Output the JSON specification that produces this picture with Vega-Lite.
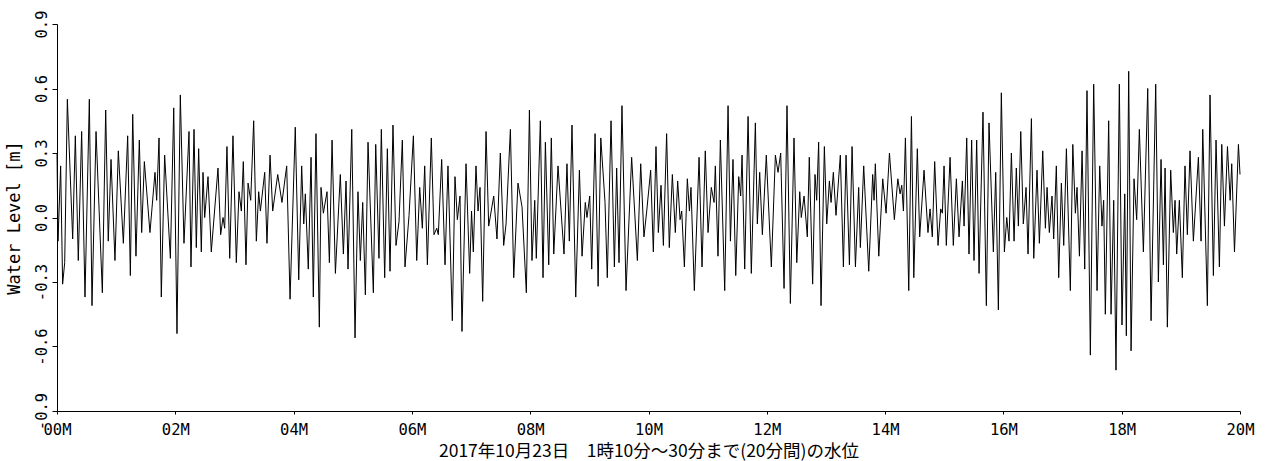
{
  "$schema": "https://vega.github.io/schema/vega-lite/v6.json",
  "autosize": {"type": "none"},
  "padding": {"left": 57, "top": 24, "right": 25, "bottom": 50},
  "width": 1183,
  "height": 387,
  "background": "white",
  "config": {"view": {"stroke": null}},
  "data": {"values": [
{"t":0,"v":0.30},{"t":1,"v":-0.11},{"t":3.7,"v":0.24},{"t":5.7,"v":-0.31},{"t":7.8,"v":-0.21},{"t":10.5,"v":0.55},{"t":15.9,"v":-0.10},{"t":18.6,"v":0.38},{"t":21.6,"v":-0.20},{"t":25,"v":0.40},{"t":28.4,"v":-0.37},{"t":32.8,"v":0.55},{"t":35.5,"v":-0.41},{"t":39.6,"v":0.40},{"t":46,"v":-0.35},{"t":49.4,"v":0.50},{"t":52,"v":-0.11},{"t":54.8,"v":0.27},{"t":58.8,"v":-0.20},{"t":62.2,"v":0.31},{"t":67.3,"v":-0.12},{"t":71.7,"v":0.38},{"t":74.4,"v":-0.27},{"t":76.8,"v":0.48},{"t":80.1,"v":-0.18},{"t":83.5,"v":0.36},{"t":85.9,"v":-0.07},{"t":88.6,"v":0.26},{"t":94.3,"v":-0.07},{"t":99.4,"v":0.21},{"t":101.1,"v":0.08},{"t":103.5,"v":0.37},
{"t":105.8,"v":-0.37},{"t":109.2,"v":0.29},{"t":115,"v":-0.19},{"t":118.4,"v":0.51},{"t":121.7,"v":-0.54},{"t":125.1,"v":0.57},{"t":128.8,"v":-0.12},{"t":133.9,"v":0.40},{"t":135.9,"v":-0.23},{"t":139,"v":0.41},{"t":141.3,"v":-0.14},{"t":143.7,"v":0.32},{"t":146.4,"v":-0.16},{"t":148.1,"v":0.21},{"t":149.8,"v":0.00},{"t":153.2,"v":0.19},{"t":156.5,"v":-0.16},{"t":163.3,"v":0.23},{"t":166,"v":-0.08},{"t":168.4,"v":0.00},{"t":170.1,"v":-0.05},{"t":172.4,"v":0.33},{"t":175.2,"v":-0.19},{"t":178.5,"v":0.38},{"t":181.9,"v":-0.21},{"t":184.6,"v":0.12},{"t":187,"v":0.03},{"t":189,"v":0.26},{"t":191.7,"v":-0.22},{"t":193.8,"v":0.16},{"t":196.5,"v":0.08},{"t":199.5,"v":0.45},{"t":202.2,"v":-0.11},{"t":204.6,"v":0.12},{"t":206.3,"v":0.03},{"t":210.7,"v":0.21},{"t":213,"v":-0.12},
{"t":216.1,"v":0.29},{"t":218.8,"v":0.03},{"t":223.9,"v":0.20},{"t":228.2,"v":0.07},{"t":233,"v":0.24},{"t":236.4,"v":-0.38},{"t":241.7,"v":0.42},{"t":245.2,"v":-0.29},{"t":248.2,"v":0.24},{"t":250.3,"v":-0.03},{"t":251.9,"v":0.11},{"t":254.9,"v":-0.24},{"t":257.7,"v":0.28},{"t":260,"v":-0.37},{"t":262.7,"v":0.39},{"t":266.1,"v":-0.51},{"t":267.8,"v":0.14},{"t":270.2,"v":0.02},{"t":273.9,"v":0.12},{"t":276.3,"v":-0.21},{"t":279,"v":0.36},{"t":282.4,"v":-0.26},{"t":287.4,"v":0.20},{"t":290.5,"v":-0.17},{"t":293.2,"v":0.17},{"t":295.2,"v":-0.24},{"t":299,"v":0.41},{"t":302.3,"v":-0.56},{"t":305.3,"v":0.12},{"t":307.7,"v":-0.20},{"t":310.1,"v":0.07},{"t":312.8,"v":-0.36},{"t":315.5,"v":0.35},{"t":320.9,"v":-0.35},
{"t":323.3,"v":0.34},{"t":326.6,"v":-0.19},{"t":329,"v":0.41},{"t":332.4,"v":-0.28},{"t":335.1,"v":0.32},{"t":337.8,"v":-0.25},{"t":340.8,"v":0.43},{"t":343.9,"v":-0.13},{"t":346.9,"v":-0.02},{"t":350.3,"v":0.36},{"t":353,"v":-0.23},{"t":357.1,"v":0.01},{"t":361.5,"v":0.38},{"t":364.9,"v":-0.20},{"t":367.9,"v":0.14},{"t":370.6,"v":-0.05},{"t":373,"v":0.24},{"t":375.7,"v":-0.22},{"t":379.7,"v":0.37},{"t":382.4,"v":-0.08},{"t":385.2,"v":-0.05},{"t":386.8,"v":-0.08},{"t":390.2,"v":0.27},{"t":393.6,"v":-0.22},{"t":396.6,"v":0.24},{"t":401,"v":-0.48},{"t":403.7,"v":0.19},{"t":406.1,"v":-0.01},{"t":408.8,"v":0.10},{"t":410.8,"v":-0.53},{"t":414.9,"v":0.25},{"t":418.6,"v":-0.26},{"t":420.5,"v":0.03},{"t":422.3,"v":-0.16},{"t":425,"v":0.24},{"t":427.1,"v":0.03},{"t":429.1,"v":0.14},{"t":431.8,"v":-0.39},
{"t":435.2,"v":0.40},{"t":437.9,"v":-0.04},{"t":443,"v":0.10},{"t":446.3,"v":-0.10},{"t":449.7,"v":0.30},{"t":453.1,"v":-0.13},{"t":455.5,"v":-0.03},{"t":459.9,"v":0.41},{"t":463.3,"v":-0.28},{"t":467.6,"v":0.16},{"t":471.7,"v":0.05},{"t":476.1,"v":-0.35},{"t":479.2,"v":0.50},{"t":481.8,"v":-0.20},{"t":484.6,"v":0.08},{"t":486.2,"v":-0.19},{"t":490.3,"v":0.45},{"t":493,"v":-0.28},{"t":495.4,"v":0.35},{"t":498.8,"v":-0.22},{"t":501.4,"v":0.37},{"t":503.9,"v":-0.17},{"t":508.2,"v":0.24},{"t":514.3,"v":-0.17},{"t":517.3,"v":0.25},{"t":519.7,"v":-0.11},{"t":522.4,"v":0.43},{"t":526.2,"v":-0.37},{"t":529.9,"v":0.22},{"t":532.6,"v":-0.18},{"t":535.9,"v":0.07},{"t":537.6,"v":0.00},{"t":540.4,"v":0.10},
{"t":542.4,"v":-0.24},{"t":545.8,"v":0.39},{"t":548.9,"v":-0.32},{"t":551.6,"v":0.37},{"t":555.9,"v":0.07},{"t":558.2,"v":-0.28},{"t":562,"v":0.45},{"t":565.4,"v":-0.23},{"t":567.7,"v":0.23},{"t":570.1,"v":-0.21},{"t":573.1,"v":0.52},{"t":577.2,"v":-0.34},{"t":582.9,"v":0.28},{"t":588.7,"v":-0.20},{"t":592.1,"v":0.25},{"t":595.4,"v":-0.09},{"t":598.2,"v":0.03},{"t":602.2,"v":0.22},{"t":604.9,"v":-0.16},{"t":607.6,"v":0.33},{"t":610,"v":-0.07},{"t":612.7,"v":0.15},{"t":615.1,"v":-0.13},{"t":618.4,"v":0.39},{"t":621.1,"v":-0.14},{"t":624.2,"v":0.20},{"t":627.2,"v":-0.07},{"t":629.6,"v":0.17},{"t":632,"v":-0.01},{"t":633.7,"v":0.03},{"t":636.4,"v":-0.23},{"t":639.4,"v":0.18},{"t":641.5,"v":0.03},{"t":643.1,"v":0.14},{"t":646.5,"v":-0.34},{"t":651.3,"v":0.28},
{"t":654.3,"v":-0.23},{"t":657.6,"v":0.31},{"t":660.4,"v":-0.07},{"t":663.7,"v":0.14},{"t":666.5,"v":0.07},{"t":667.8,"v":0.24},{"t":670.5,"v":-0.18},{"t":672.9,"v":0.36},{"t":677.3,"v":-0.34},{"t":680.7,"v":0.52},{"t":683.1,"v":-0.11},{"t":685.7,"v":0.27},{"t":688.5,"v":-0.27},{"t":691.5,"v":0.19},{"t":693.5,"v":0.10},{"t":694.9,"v":0.29},{"t":697.6,"v":-0.24},{"t":701,"v":0.47},{"t":704.3,"v":-0.26},{"t":708.4,"v":0.44},{"t":710.4,"v":-0.03},{"t":712.8,"v":0.21},{"t":715.5,"v":-0.08},{"t":719.5,"v":0.29},{"t":724.6,"v":-0.23},{"t":728.7,"v":0.29},{"t":731.4,"v":0.21},{"t":734.1,"v":0.30},{"t":737.5,"v":-0.33},{"t":740.5,"v":0.52},{"t":743.9,"v":-0.40},{"t":747.6,"v":0.37},{"t":750.4,"v":-0.21},{"t":753.4,"v":0.12},{"t":755,"v":0.00},{"t":757.8,"v":0.10},{"t":761.1,"v":-0.09},
{"t":763.1,"v":0.28},{"t":766.5,"v":-0.31},{"t":768.9,"v":0.20},{"t":770.6,"v":0.08},{"t":772.6,"v":0.35},{"t":775,"v":-0.41},{"t":778.4,"v":0.33},{"t":780.8,"v":-0.03},{"t":783.5,"v":0.17},{"t":785.2,"v":0.07},{"t":787.5,"v":0.21},{"t":790.2,"v":0.01},{"t":794.6,"v":0.29},{"t":797.7,"v":-0.23},{"t":800.4,"v":0.29},{"t":803.8,"v":-0.22},{"t":806.5,"v":0.33},{"t":809.9,"v":-0.23},{"t":813.2,"v":0.14},{"t":814.9,"v":-0.14},{"t":818.3,"v":0.24},{"t":823.4,"v":-0.25},{"t":827.4,"v":0.20},{"t":828.8,"v":0.08},{"t":830.1,"v":0.25},{"t":833.6,"v":-0.18},{"t":837.6,"v":0.18},{"t":841,"v":0.02},{"t":844.4,"v":0.30},{"t":849.4,"v":-0.01},{"t":852.9,"v":0.18},{"t":855.2,"v":0.11},{"t":856.9,"v":0.15},{"t":858.6,"v":0.03},{"t":860.6,"v":0.37},{"t":864,"v":-0.34},{"t":866.7,"v":0.47},{"t":869.1,"v":-0.28},
{"t":872.7,"v":0.32},{"t":875.1,"v":-0.09},{"t":879.5,"v":0.22},{"t":883.5,"v":-0.07},{"t":885.6,"v":0.04},{"t":887.9,"v":-0.09},{"t":890.3,"v":0.26},{"t":893.7,"v":-0.13},{"t":896.4,"v":0.04},{"t":898.1,"v":0.02},{"t":899.8,"v":0.24},{"t":902.1,"v":-0.13},{"t":905.9,"v":0.28},{"t":909.2,"v":-0.13},{"t":912.3,"v":0.18},{"t":915,"v":-0.09},{"t":918.4,"v":0.17},{"t":920.1,"v":-0.04},{"t":922.8,"v":0.37},{"t":925.1,"v":-0.17},{"t":927.8,"v":0.36},{"t":930.2,"v":-0.20},{"t":932.9,"v":0.36},{"t":935.3,"v":-0.26},{"t":939.3,"v":0.49},{"t":942.7,"v":-0.41},{"t":945.4,"v":0.44},{"t":949.8,"v":-0.16},{"t":952.2,"v":0.21},{"t":954.9,"v":-0.43},{"t":957.9,"v":0.58},{"t":961,"v":-0.16},{"t":963.4,"v":0.00},{"t":965.7,"v":-0.11},{"t":968.1,"v":0.30},{"t":970.8,"v":-0.11},{"t":973.1,"v":0.23},{"t":975.2,"v":-0.04},{"t":977.6,"v":0.40},{"t":980.2,"v":-0.03},
{"t":983,"v":0.14},{"t":985,"v":-0.17},{"t":988.4,"v":0.46},{"t":990.8,"v":-0.19},{"t":994.1,"v":0.22},{"t":996.5,"v":-0.12},{"t":999.9,"v":0.31},{"t":1002.6,"v":-0.05},{"t":1004.3,"v":0.14},{"t":1006.6,"v":-0.07},{"t":1009.3,"v":0.10},{"t":1011,"v":-0.10},{"t":1013.7,"v":0.24},{"t":1016.1,"v":-0.28},{"t":1018.8,"v":0.16},{"t":1021.2,"v":-0.13},{"t":1023.9,"v":0.32},{"t":1027.9,"v":-0.34},{"t":1030.4,"v":0.34},{"t":1033,"v":0.02},{"t":1034.7,"v":0.14},{"t":1037.1,"v":-0.18},{"t":1039.8,"v":0.31},{"t":1042.5,"v":-0.24},{"t":1044.8,"v":0.59},{"t":1048.2,"v":-0.64},{"t":1051.6,"v":0.62},{"t":1055,"v":-0.34},{"t":1057.7,"v":0.24},{"t":1060,"v":-0.04},{"t":1061.7,"v":0.08},{"t":1063.4,"v":-0.45},{"t":1066.8,"v":0.45},{"t":1069.2,"v":-0.45},{"t":1071.9,"v":0.08},{"t":1074.2,"v":-0.71},{"t":1077.6,"v":0.62},{"t":1080.3,"v":-0.50},{"t":1083.1,"v":0.11},{"t":1084.7,"v":-0.55},{"t":1087.1,"v":0.68},{"t":1089.5,"v":-0.62},
{"t":1092.5,"v":0.18},{"t":1095.2,"v":-0.01},{"t":1097.9,"v":0.41},{"t":1102,"v":-0.16},{"t":1106.4,"v":0.60},{"t":1109.8,"v":-0.48},{"t":1114.5,"v":0.62},{"t":1117.2,"v":-0.30},{"t":1119.9,"v":0.27},{"t":1122.3,"v":-0.22},{"t":1124,"v":0.23},{"t":1126.3,"v":-0.51},{"t":1129.7,"v":0.22},{"t":1132.4,"v":-0.07},{"t":1134.1,"v":0.08},{"t":1135.8,"v":-0.17},{"t":1138.5,"v":0.08},{"t":1141.5,"v":-0.28},{"t":1144.2,"v":0.24},{"t":1146.6,"v":-0.08},{"t":1149.3,"v":0.31},{"t":1152.7,"v":-0.11},{"t":1157.8,"v":0.28},{"t":1160.5,"v":-0.11},{"t":1162.2,"v":0.41},{"t":1166.9,"v":-0.41},{"t":1169.6,"v":0.57},{"t":1173,"v":-0.27},{"t":1175.7,"v":0.36},{"t":1179.1,"v":-0.23},{"t":1181.5,"v":0.34},{"t":1184.2,"v":-0.04},{"t":1187.3,"v":0.33},{"t":1190,"v":0.08},{"t":1191.6,"v":0.25},{"t":1194.4,"v":-0.16},{"t":1198.4,"v":0.34},{"t":1200,"v":0.20}
  ]},
  "mark": {"type": "line", "color": "black", "strokeWidth": 1},
  "encoding": {
    "x": {
      "field": "t", "type": "quantitative",
      "scale": {"domain": [0, 1200], "nice": false, "zero": false},
      "axis": {
        "values": [0, 120, 240, 360, 480, 600, 720, 840, 960, 1080, 1200],
        "labelExpr": "(datum.value < 600 ? '0' : '') + (datum.value / 60) + 'M'",
        "grid": false, "tickSize": 3, "labelPadding": 8, "labelFlush": false, "labelOverlap": false,
        "labelFont": "DejaVu Sans Mono", "labelFontSize": 15.5, "labelColor": "black",
        "domainColor": "black", "tickColor": "black",
        "title": "2017年10月23日　1時10分～30分まで(20分間)の水位",
        "titleFont": "Noto Sans CJK JP", "titleFontSize": 17.5, "titleFontWeight": "normal", "titleColor": "black",
        "titleY": 40, "titleBaseline": "middle"
      }
    },
    "y": {
      "field": "v", "type": "quantitative",
      "scale": {"domain": [-0.9, 0.9], "nice": false, "zero": false},
      "axis": {
        "values": [-0.9, -0.6, -0.3, 0, 0.3, 0.6, 0.9],
        "labelExpr": "(datum.value < -0.01 ? '-' : '') + format(abs(datum.value), '.1f')",
        "grid": false, "tickSize": 5, "labelPadding": 3, "labelAngle": -90,
        "labelAlign": "center", "labelBaseline": "bottom", "labelFlush": false, "labelOverlap": false,
        "labelFont": "DejaVu Sans Mono", "labelFontSize": 15.5, "labelColor": "black",
        "domainColor": "black", "tickColor": "black",
        "title": "Water Level [m]",
        "titleFont": "DejaVu Sans Mono", "titleFontSize": 17, "titleFontWeight": "normal", "titleColor": "black",
        "titleAngle": -90, "titleX": -43, "titleY": 193.5, "titleAlign": "center", "titleBaseline": "middle"
      }
    }
  }
}
